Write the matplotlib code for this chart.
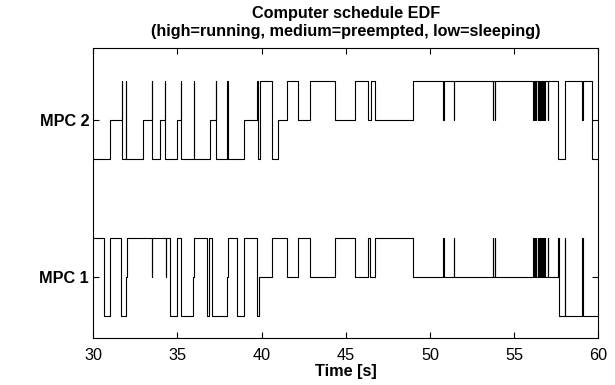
import numpy as np
import matplotlib.pyplot as plt

plt.rcParams['font.family'] = ['Liberation Sans', 'DejaVu Sans']

# task states: 0 = sleeping, 1 = preempted, 2 = running
t_end = 60.0

mpc1_changes = [(30.00, 2), (30.64, 0), (30.99, 2), (31.63, 0), (31.94, 1), (31.98, 2),
                (34.56, 0), (34.99, 2), (35.19, 0), (35.94, 1), (36.00, 2), (36.74, 0),
                (36.89, 2), (37.03, 0), (37.92, 1), (38.02, 2), (38.52, 0), (38.97, 2),
                (39.71, 0), (39.86, 1), (40.60, 2), (41.53, 1), (42.18, 2), (42.87, 1),
                (44.36, 2), (45.55, 1), (46.34, 2), (46.44, 1), (46.73, 2), (49.01, 1),
                (57.62, 2), (57.64, 0)]
mpc1_spikes = [(33.47, 1), (34.30, 1), (50.79, 2), (51.43, 2), (53.73, 2), (53.86, 2),
               (56.15, 2), (56.23, 2), (56.31, 2), (56.39, 2), (56.47, 2), (56.55, 2),
               (56.63, 2), (56.71, 2), (56.80, 2), (57.02, 2), (58.02, 2), (59.05, 2)]

mpc2_changes = [(30.00, 0), (30.99, 1), (31.69, 2), (31.72, 0), (32.97, 1), (33.47, 2),
                (33.49, 0), (33.96, 1), (34.26, 2), (34.28, 0), (34.95, 1), (35.19, 2),
                (35.21, 0), (36.93, 1), (37.29, 2), (37.31, 0), (38.97, 1), (39.71, 2),
                (39.80, 0), (39.90, 2), (40.60, 0), (40.99, 1), (41.53, 2), (42.18, 1),
                (42.87, 2), (44.36, 1), (45.55, 2), (46.34, 1), (46.48, 2), (46.73, 1),
                (49.01, 2), (57.62, 0), (58.02, 1), (58.05, 2), (59.61, 0)]
mpc2_spikes = [(31.94, 2), (35.98, 2), (37.96, 2), (50.79, 1), (51.43, 1), (53.73, 1),
               (53.86, 1), (56.15, 1), (56.23, 1), (56.31, 1), (56.39, 1), (56.47, 1),
               (56.55, 1), (56.63, 1), (56.71, 1), (56.80, 1), (57.02, 1), (59.05, 1)]

task_names = ['MPC 1', 'MPC 2']


def build_trace(changes, spikes, width=0.02):
    events = list(changes)
    times = [c[0] for c in changes]
    for ts, lvl in spikes:
        i = np.searchsorted(times, ts, side='right') - 1
        prev = changes[i][1]
        events += [(ts, lvl), (ts + width, prev)]
    events.sort(key=lambda e: e[0])
    t = [e[0] for e in events] + [t_end]
    s = [e[1] for e in events] + [events[-1][1]]
    return np.array(t), np.array(s)


fig = plt.figure(figsize=(6.15, 3.85), dpi=100)
ax = fig.add_axes([0.1517, 0.1221, 0.8211, 0.7532])

for k, (ch, sp) in enumerate([(mpc1_changes, mpc1_spikes), (mpc2_changes, mpc2_spikes)]):
    t, s = build_trace(ch, sp)
    ax.step(t, (k + 1) + 0.25 * (s - 1), where='post', color='black', lw=0.8)

fs = 11.7
ax.set_xlim(30, 60)
ax.set_ylim(0.61, 2.46)
ax.set_xticks(np.arange(30, 61, 5))
ax.set_yticks([1, 2])
ax.set_yticklabels(task_names, fontweight='bold', fontsize=fs)
ax.tick_params(direction='in', top=True, right=True, length=4, labelsize=fs)
ax.tick_params(axis='x', pad=7)
ax.tick_params(axis='y', pad=3)
ax.set_xlabel('Time [s]', fontweight='bold', fontsize=fs, labelpad=1)
ax.set_title('Computer schedule EDF\n(high=running, medium=preempted, low=sleeping)',
             fontweight='bold', fontsize=fs, pad=9, linespacing=1.2)

fig.savefig('out.png', dpi=100)
